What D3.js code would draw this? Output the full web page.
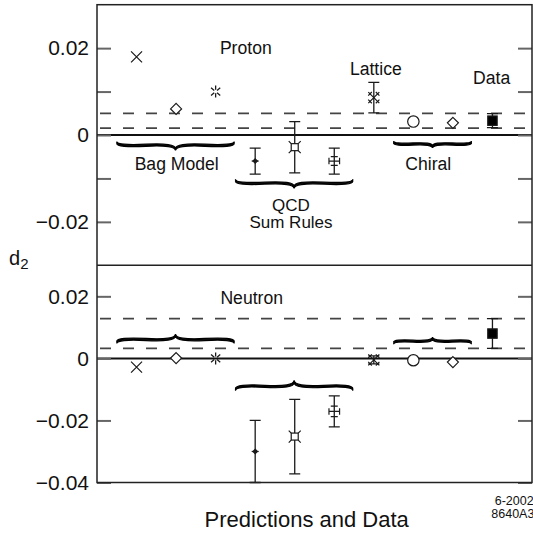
<!DOCTYPE html>
<html><head><meta charset="utf-8">
<script src="https://cdn.jsdelivr.net/npm/d3@7"></script>
<style>
body{margin:0;background:#fff;}
svg{display:block;}
text{font-family:"Liberation Sans",Arial,Helvetica,sans-serif;fill:#111;}
</style>
</head><body>
<svg id="c" width="533" height="533"></svg>
<script>
// ---------------- data ----------------
const predictions = ["Bag Model 1","Bag Model 2","Bag Model 3","QCD Sum Rules 1","QCD Sum Rules 2","QCD Sum Rules 3","Lattice","Chiral 1","Chiral 2","Data"];
const positions = [1,2,3,4,5,6,7,8,9,10];
const markerShapes = ["cross","diamond","asterisk","dot","boxcross","plus","lattice","circle","diamond","square"];
const protonValues = [0.018,0.006,0.010,-0.006,-0.0028,-0.006,0.0086,0.0031,0.0028,0.0033];
const protonErrors = [0,0,0,0.003,0.0059,0.003,0.0035,0,0,0.0016];
const protonInnerErrors = [0,0,0,0,0,0.001,0,0,0,0];
const neutronValues = [-0.0028,0.0001,0,-0.030,-0.0252,-0.0171,-0.0005,-0.0006,-0.0012,0.008];
const neutronErrors = [0,0,0,0.010,0.012,0.005,0.0013,0,0,0.0048];
const neutronInnerErrors = [0,0,0,0,0,0.0017,0,0,0,0];
const protonBand = [0.0016,0.005];
const neutronBand = [0.0032,0.0128];
const protonTicks = [-0.02,-0.01,0,0.01,0.02];
const protonTickLabels = ["\u22120.02","","0","","0.02"];
const neutronTicks = [-0.04,-0.02,0,0.02];
const neutronTickLabels = ["\u22120.04","\u22120.02","0","0.02"];
const groupNames = ["Bag Model","QCD Sum Rules","Chiral"];
const groupFirst = [1,4,8];
const groupLast = [3,6,9];

// ---------------- layout ----------------
const svg = d3.select("#c");
const x = d3.scaleLinear().domain([0,11]).range([97,532]);
const yP = d3.scaleLinear().domain([-0.03,0.03]).range([265.3,4.7]);
const yN = d3.scaleLinear().domain([-0.04,0.03]).range([482.5,265.3]);
const INK = "#1a1a1a";

function bracePath(x1,y1,x2,y2,w,q){
  let dx=x1-x2, dy=y1-y2;
  const len=Math.sqrt(dx*dx+dy*dy); dx/=len; dy/=len;
  const qx1=x1+q*w*dy, qy1=y1-q*w*dx;
  const qx2=(x1-.25*len*dx)+(1-q)*w*dy, qy2=(y1-.25*len*dy)-(1-q)*w*dx;
  const tx1=(x1-.5*len*dx)+w*dy, ty1=(y1-.5*len*dy)-w*dx;
  const qx3=x2+q*w*dy, qy3=y2-q*w*dx;
  const qx4=(x1-.75*len*dx)+(1-q)*w*dy, qy4=(y1-.75*len*dy)-(1-q)*w*dx;
  return `M${x1},${y1} Q${qx1},${qy1} ${qx2},${qy2} T${tx1},${ty1} M${x2},${y2} Q${qx3},${qy3} ${qx4},${qy4} T${tx1},${ty1}`;
}
function drawBrace(g,xl,xr,yEnd,w,down){
  const d = down ? bracePath(xl,yEnd,xr,yEnd,w,0.6) : bracePath(xr,yEnd,xl,yEnd,w,0.6);
  [0,0.7,1.4,2.1].forEach(off=>{
    g.append("path").attr("d",d).attr("transform",`translate(0,${down?off-1:1-off})`)
      .attr("fill","none").attr("stroke","#000").attr("stroke-width",1.2);
  });
}

function drawMarker(g,shape,cx,cy){
  const s = g.append("g").attr("transform",`translate(${cx},${cy})`)
    .attr("fill","none").attr("stroke",INK).attr("stroke-width",1.2);
  if(shape==="cross"){
    s.append("path").attr("d","M-5.5,-5.5L5.5,5.5M-5.5,5.5L5.5,-5.5");
  } else if(shape==="diamond"){
    s.append("path").attr("d","M0,-5.5L5.5,0L0,5.5L-5.5,0Z").attr("fill","#fff");
  } else if(shape==="asterisk"){
    let d="";
    [90,270,40,140,220,320].forEach(a=>{
      const r=a*Math.PI/180, c=Math.cos(r), sn=Math.sin(r);
      d+=`M${1.8*c},${1.8*sn}L${6*c},${6*sn}`;
    });
    s.append("path").attr("d",d).attr("stroke-width",1.3);
  } else if(shape==="dot"){
    s.append("path").attr("d","M0,-2.2L2.2,0L0,2.2L-2.2,0Z").attr("fill",INK);
    s.append("path").attr("d","M-3.5,0L3.5,0");
  } else if(shape==="boxcross"){
    s.append("rect").attr("x",-3.5).attr("y",-3.5).attr("width",7).attr("height",7).attr("fill","#fff");
    s.append("path").attr("d","M-3.5,-3.5L-6,-6M3.5,-3.5L6,-6M-3.5,3.5L-6,6M3.5,3.5L6,6");
  } else if(shape==="plus"){
    s.append("path").attr("d","M-5.3,0L5.3,0M-5.3,-3.3L-5.3,3.3M5.3,-3.3L5.3,3.3");
  } else if(shape==="lattice"){
    s.append("path").attr("d","M-5.5,-5.5L5.5,5.5M-5.5,5.5L5.5,-5.5");
    let d="";
    [[-1,-1],[1,-1],[-1,1],[1,1]].forEach(([a,b])=>{
      const px=a*3.8, py=b*3.8;
      d+=`M${px-1.8*a},${py+1.8*b}L${px+1.8*a},${py-1.8*b}`;
    });
    s.append("path").attr("d",d);
  } else if(shape==="circle"){
    s.append("circle").attr("r",5.7).attr("fill","#fff");
  } else if(shape==="square"){
    s.append("rect").attr("x",-4.7).attr("y",-4.7).attr("width",9.4).attr("height",9.4).attr("fill","#000");
  }
}

function drawErrors(g,y,cx,v,e,inner){
  if(e>0){
    const cap=5.5;
    g.append("path").attr("d",
      `M${cx},${y(v+e)}L${cx},${y(v-e)}M${cx-cap},${y(v+e)}L${cx+cap},${y(v+e)}M${cx-cap},${y(v-e)}L${cx+cap},${y(v-e)}`)
      .attr("stroke",INK).attr("stroke-width",1.3).attr("fill","none");
  }
  if(inner>0){
    const c2=3.5;
    g.append("path").attr("d",
      `M${cx-c2},${y(v+inner)}L${cx+c2},${y(v+inner)}M${cx-c2},${y(v-inner)}L${cx+c2},${y(v-inner)}`)
      .attr("stroke",INK).attr("stroke-width",1.3).attr("fill","none");
  }
}

function drawPanel(y,values,errors,inner,band,ticks,tickLabels,braceY,braceW,braceDown){
  const g = svg.append("g");
  band.forEach(b=>{
    g.append("line").attr("x1",x(0)).attr("x2",x(11)).attr("y1",y(b)).attr("y2",y(b))
      .attr("stroke","#444").attr("stroke-width",1.7).attr("stroke-dasharray","11,12").attr("stroke-dashoffset",-3);
  });
  g.append("line").attr("x1",x(0)).attr("x2",x(11)).attr("y1",y(0)).attr("y2",y(0))
    .attr("stroke","#111").attr("stroke-width",2);
  groupNames.forEach((n,i)=>{
    drawBrace(g,x(groupFirst[i]-0.5),x(groupLast[i]+0.47),y(braceY[i]),braceW[i],braceDown);
  });
  positions.forEach((p,i)=>{
    drawErrors(g,y,x(p),values[i],errors[i],inner[i]);
    drawMarker(g,markerShapes[i],x(p),y(values[i]));
  });
  const fmt = d=>tickLabels[ticks.indexOf(d)];
  const la = g.append("g").attr("transform",`translate(${x(0)},0)`)
    .call(d3.axisLeft(y).tickValues(ticks).tickSizeInner(-14).tickSizeOuter(0).tickPadding(8).tickFormat(fmt));
  const ra = g.append("g").attr("transform",`translate(${x(11)},0)`)
    .call(d3.axisRight(y).tickValues(ticks).tickSizeInner(-14).tickSizeOuter(0).tickFormat(""));
  [la,ra].forEach(a=>{
    a.select(".domain").remove();
    a.selectAll(".tick line").attr("stroke","#666").attr("stroke-width",2);
  });
  la.selectAll(".tick text").attr("font-size",21).attr("fill","#111")
    .style("font-family",'"Liberation Sans",Arial,sans-serif');
  return g;
}

const protonBraceY = [-0.0017,-0.0104,-0.0016];
const protonBraceW = [7,7.3,5];
drawPanel(yP,protonValues,protonErrors,protonInnerErrors,protonBand,protonTicks,protonTickLabels,protonBraceY,protonBraceW,true);
const neutronBraceY = [0.0051,-0.0101,0.0049];
const neutronBraceW = [7.5,8.3,5];
drawPanel(yN,neutronValues,neutronErrors,neutronInnerErrors,neutronBand,neutronTicks,neutronTickLabels,neutronBraceY,neutronBraceW,false);

svg.append("rect").attr("x",x(0)).attr("y",yP(0.03)).attr("width",x(11)-x(0)).attr("height",yN(-0.04)-yP(0.03))
  .attr("fill","none").attr("stroke","#222").attr("stroke-width",1.5);
svg.append("line").attr("x1",x(0)).attr("x2",x(11)).attr("y1",yP(-0.03)).attr("y2",yP(-0.03))
  .attr("stroke","#222").attr("stroke-width",1.5);

function label(t,cx,by,size,anchor){
  svg.append("text").attr("x",cx).attr("y",by).attr("font-size",size)
    .attr("text-anchor",anchor||"middle").text(t);
}
label("Proton",245.8,54.3,17.6);
label("Lattice",375.8,75,17.6);
label("Data",491.7,84,17.6);
label("Bag Model",176.7,170,17.6);
label("Chiral",428.3,170,17.6);
label("QCD",291,210.5,17);
label("Sum Rules",291,228,17);
label("Neutron",251.7,304,17.6);
label("Predictions and Data",306.7,526.7,22);
label("6-2002",494.7,505,12.5,"start");
label("8640A3",491.3,518.3,12.5,"start");
const yl = svg.append("text").attr("x",9).attr("y",265).attr("font-size",20);
yl.append("tspan").text("d");
yl.append("tspan").attr("font-size",15).attr("dy",3.5).text("2");
</script>
</body></html>
